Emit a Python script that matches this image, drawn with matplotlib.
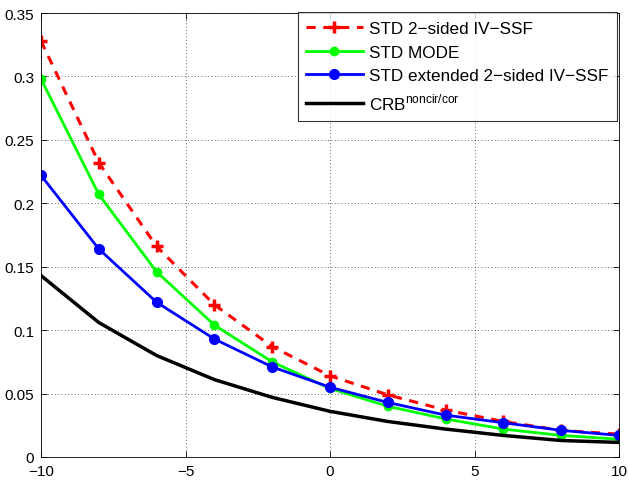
import matplotlib
matplotlib.use("Agg")
import matplotlib.pyplot as plt
import numpy as np

snr = [-10, -8, -6, -4, -2, 0, 2, 4, 6, 8, 10]
std_2sided = [0.328, 0.232, 0.166, 0.120, 0.087, 0.064, 0.049, 0.037, 0.028, 0.021, 0.018]
std_mode = [0.298, 0.207, 0.146, 0.104, 0.075, 0.054, 0.040, 0.030, 0.022, 0.017, 0.014]
std_ext = [0.222, 0.164, 0.122, 0.093, 0.071, 0.055, 0.043, 0.033, 0.027, 0.021, 0.017]
crb = [0.143, 0.106, 0.080, 0.061, 0.047, 0.036, 0.028, 0.022, 0.017, 0.013, 0.0115]

labels = ["STD 2\u2212sided IV\u2212SSF", "STD MODE", "STD extended 2\u2212sided IV\u2212SSF",
          r"CRB$^{\mathregular{noncir/cor}}$"]
xticks = [-10, -5, 0, 5, 10]
xticklabels = ["\u221210", "\u22125", "0", "5", "10"]
yticks = [0, 0.05, 0.1, 0.15, 0.2, 0.25, 0.3, 0.35]
yticklabels = ["0", "0.05", "0.1", "0.15", "0.2", "0.25", "0.3", "0.35"]

plt.rcParams['font.family'] = ['Liberation Sans', 'DejaVu Sans']
plt.rcParams['mathtext.fontset'] = 'custom'
plt.rcParams['mathtext.rm'] = 'Liberation Sans'

fig = plt.figure(figsize=(6.29, 4.85), dpi=100)
ax = fig.add_axes([41/629, 1 - 458/485, (619-41)/629, (458-14)/485])

ax.plot(snr, std_2sided, color='red', ls=(0, (3, 2.5)), lw=2.2, marker='+', ms=9, mew=2.5, label=labels[0])
ax.plot(snr, std_mode, color='#00ff00', lw=2, marker='o', ms=6, label=labels[1])
ax.plot(snr, std_ext, color='blue', lw=2, marker='o', ms=7, label=labels[2])
ax.plot(snr, crb, color='black', lw=2.5, label=labels[3])

ax.set_xlim(-10, 10)
ax.set_ylim(0, 0.35)
ax.set_xticks(xticks)
ax.set_xticklabels(xticklabels)
ax.set_yticks(yticks)
ax.set_yticklabels(yticklabels)
ax.tick_params(direction='in', top=True, right=True, labelsize=11, length=4, width=0.6)
ax.tick_params(axis='x', pad=5)
ax.tick_params(axis='y', pad=5)
ax.grid(True, ls=(0, (1, 3)), color='black', lw=0.6, alpha=0.8)
for s in ax.spines.values():
    s.set_linewidth(0.6)

leg = ax.legend(loc='upper right', fontsize=12.3, frameon=True, fancybox=False,
                edgecolor='black', bbox_to_anchor=(1.0, 1.005), borderaxespad=0.1,
                handlelength=3.3, labelspacing=0.5, borderpad=0.5, handletextpad=0.4)
leg.get_frame().set_linewidth(0.8)

fig.savefig("out.png", dpi=100)
